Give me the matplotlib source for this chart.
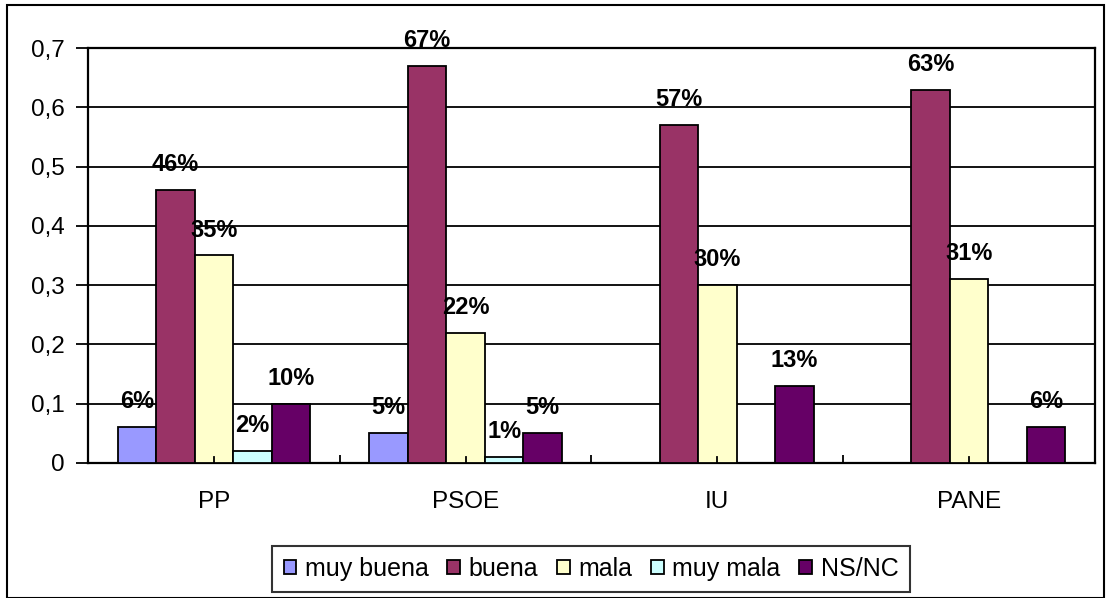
import matplotlib.pyplot as plt
import matplotlib.patches as mpatches
import numpy as np

plt.rcParams['font.family'] = ['Liberation Sans', 'DejaVu Sans']

parties = ["PP", "PSOE", "IU", "PANE"]
series = ["muy buena", "buena", "mala", "muy mala", "NS/NC"]
muy_buena = [0.06, 0.05, 0.0, 0.0]
buena = [0.46, 0.67, 0.57, 0.63]
mala = [0.35, 0.22, 0.30, 0.31]
muy_mala = [0.02, 0.01, 0.0, 0.0]
ns_nc = [0.10, 0.05, 0.13, 0.06]
colors = ["#9999FF", "#993366", "#FFFFCC", "#CCFFFF", "#660066"]
yticks = [0, 0.1, 0.2, 0.3, 0.4, 0.5, 0.6, 0.7]
ytick_labels = ["0", "0,1", "0,2", "0,3", "0,4", "0,5", "0,6", "0,7"]

values = [muy_buena, buena, mala, muy_mala, ns_nc]

fig = plt.figure(figsize=(11.11, 5.98), dpi=100)
ax = fig.add_axes([0.0792, 0.2258, 0.9064, 0.6939])

x = np.arange(len(parties))
w = 0.153
for i, (name, vals, c) in enumerate(zip(series, values, colors)):
    pos = x + (i - 2) * w
    ax.bar(pos, vals, width=w, color=c, edgecolor="black", linewidth=1.3,
           label=name, zorder=3)
    for p, v in zip(pos, vals):
        if v > 0:
            ax.text(p, v + 0.032, f"{round(v * 100)}%", ha="center", va="baseline",
                    fontsize=17, fontweight="bold", zorder=4)

# tick marks at group centres drawn over the bars
for xc in x:
    ax.plot([xc, xc], [0, 0.014], color="black", linewidth=1.3, zorder=5,
            transform=ax.get_xaxis_transform(), clip_on=False)

ax.set_xlim(-0.5, len(parties) - 0.5)
ax.set_ylim(0, 0.7)
ax.set_yticks(yticks)
ax.set_yticklabels(ytick_labels, fontsize=17.5)
ax.set_xticks(x)
ax.set_xticklabels(parties, fontsize=17.5)
ax.set_xticks(np.arange(len(parties) + 1) - 0.5, minor=True)
ax.tick_params(axis="x", which="major", length=0, pad=20)
ax.tick_params(axis="x", which="minor", direction="in", length=6, width=1.3)
ax.tick_params(axis="y", direction="out", length=9, width=1.3, pad=8)
ax.grid(axis="y", color="black", linewidth=1.3, zorder=0)
for s in ax.spines.values():
    s.set_linewidth(1.6)
    s.set_color("black")

leg = ax.legend(loc="upper center", bbox_to_anchor=(0.4995, -0.2), ncol=5,
                fontsize=18, frameon=True, fancybox=False, edgecolor="black",
                handlelength=0.5, handleheight=0.5, handletextpad=0.35,
                columnspacing=0.75, borderpad=0.45, borderaxespad=0)
leg.get_frame().set_linewidth(1.5)

fig.patches.append(mpatches.Rectangle((0.0063, 0.0), 0.9874, 0.9916,
                                      transform=fig.transFigure, fill=False,
                                      edgecolor="black", linewidth=1.5))

fig.savefig("out.png", dpi=100)
